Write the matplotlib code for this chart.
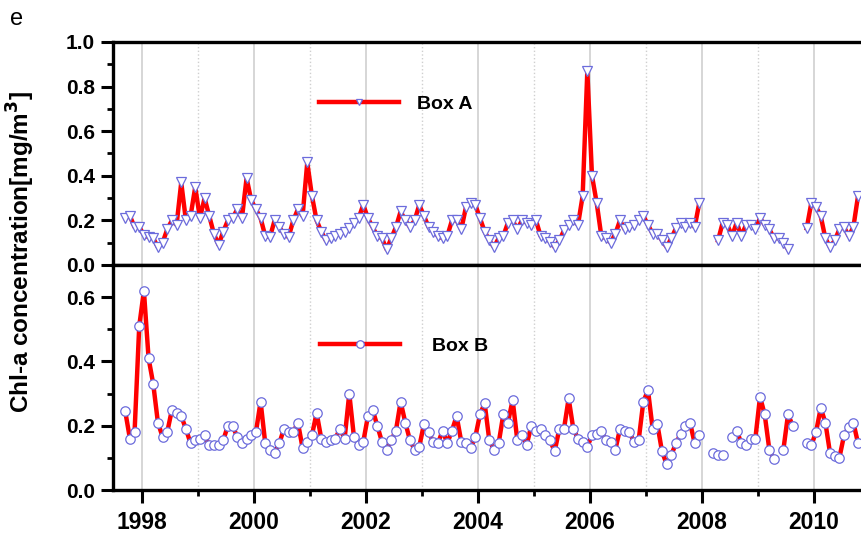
import numpy as np
import matplotlib
matplotlib.use("Agg")
import matplotlib.pyplot as plt
from matplotlib.ticker import MultipleLocator

plt.rcParams["font.family"] = ["Liberation Sans", "DejaVu Sans"]

# monthly series, first value is September 1997
START_YEAR = 1997
START_MONTH = 9
nan = np.nan

box_a = [
    0.21, 0.22, 0.17, 0.17,
    0.135, 0.125, 0.12, 0.08, 0.10, 0.16, 0.20, 0.18, 0.37, 0.20, 0.22, 0.35,
    0.21, 0.30, 0.22, 0.14, 0.09, 0.15, 0.20, 0.21, 0.25, 0.21, 0.39, 0.29,
    0.25, 0.21, 0.13, 0.125, 0.20, 0.17, 0.14, 0.125, 0.20, 0.25, 0.22, 0.46,
    0.31, 0.20, 0.15, 0.11, 0.12, 0.13, 0.14, 0.15, 0.165, 0.19, 0.21, 0.27,
    0.21, 0.17, 0.13, 0.12, 0.07, 0.12, 0.17, 0.24, 0.20, 0.17, 0.20, 0.27,
    0.22, 0.17, 0.15, 0.13, 0.12, 0.13, 0.20, 0.20, 0.16, 0.26, 0.28, 0.27,
    0.21, 0.15, 0.11, 0.08, 0.12, 0.13, 0.19, 0.20, 0.16, 0.20, 0.19, 0.18,
    0.20, 0.13, 0.12, 0.105, 0.08, 0.11, 0.155, 0.18, 0.20, 0.18, 0.31, 0.87,
    0.40, 0.28, 0.13, 0.12, 0.10, 0.14, 0.20, 0.16, 0.17, 0.18, 0.20, 0.22,
    0.18, 0.14, 0.14, 0.11, 0.08, 0.12, 0.165, 0.19, 0.17, 0.19, 0.17, 0.28,
    nan, nan, nan, 0.11, 0.19, 0.18, 0.13, 0.19, 0.13, 0.18, 0.18, 0.16,
    0.21, 0.18, 0.16, 0.12, 0.12, 0.10, 0.07, nan, nan, nan, 0.165, 0.28,
    0.26, 0.22, 0.12, 0.08, 0.11, 0.16, 0.17, 0.13, 0.17, 0.31,
]

box_b = [
    0.245, 0.16, 0.18, 0.51,
    0.62, 0.41, 0.33, 0.21, 0.165, 0.18, 0.25, 0.24, 0.23, 0.19, 0.145, 0.155,
    0.16, 0.17, 0.14, 0.14, 0.14, 0.155, 0.20, 0.20, 0.165, 0.145, 0.16, 0.17,
    0.18, 0.275, 0.145, 0.125, 0.115, 0.145, 0.19, 0.18, 0.18, 0.21, 0.13, 0.15,
    0.17, 0.24, 0.16, 0.15, 0.155, 0.16, 0.19, 0.16, 0.30, 0.165, 0.14, 0.15,
    0.23, 0.25, 0.20, 0.15, 0.125, 0.155, 0.185, 0.275, 0.21, 0.155, 0.125, 0.135,
    0.205, 0.18, 0.15, 0.145, 0.185, 0.145, 0.185, 0.23, 0.15, 0.145, 0.13, 0.165,
    0.235, 0.27, 0.155, 0.125, 0.145, 0.235, 0.21, 0.28, 0.155, 0.17, 0.14, 0.20,
    0.185, 0.19, 0.17, 0.155, 0.12, 0.19, 0.19, 0.285, 0.19, 0.16, 0.15, 0.135,
    0.17, 0.175, 0.185, 0.155, 0.15, 0.125, 0.19, 0.185, 0.18, 0.15, 0.155, 0.275,
    0.31, 0.19, 0.205, 0.12, 0.08, 0.11, 0.145, 0.175, 0.20, 0.21, 0.145, 0.17,
    nan, nan, 0.115, 0.11, 0.11, nan, 0.165, 0.185, 0.145, 0.14, 0.16, 0.16,
    0.29, 0.235, 0.125, 0.095, nan, 0.125, 0.235, 0.20, nan, nan, 0.145, 0.14,
    0.18, 0.255, 0.21, 0.115, 0.105, 0.10, 0.17, 0.195, 0.21, 0.145,
]

labels = ["Box A", "Box B"]
markers = ["v", "o"]
year_ticks = [1998, 2000, 2002, 2004, 2006, 2008, 2010]

LINE_RED = "#ff0000"
EDGE_BLUE = "#6c6cdc"
GRID_GREY = "#cfcfcf"


def month_axis(n):
    first = START_YEAR + (START_MONTH - 1) / 12.0
    return first + (np.arange(n) + 0.5) / 12.0


def style_axis(ax, ylim, major, show_x):
    ax.set_xlim(1997.49, 2011.63)
    ax.set_ylim(*ylim)
    ax.xaxis.set_major_locator(MultipleLocator(2))
    ax.xaxis.set_minor_locator(MultipleLocator(1))
    ax.yaxis.set_major_locator(MultipleLocator(major))
    ax.yaxis.set_minor_locator(MultipleLocator(0.1))
    ax.grid(which="major", axis="x", color=GRID_GREY, lw=1.2)
    ax.grid(which="minor", axis="x", color=GRID_GREY, lw=1.0, ls=":")
    ax.set_axisbelow(True)
    for side in ax.spines.values():
        side.set_linewidth(2.4)
    ax.tick_params(axis="y", which="major", direction="out", length=9, width=2.2,
                   labelsize=15, pad=4)
    ax.tick_params(axis="y", which="minor", direction="out", length=4, width=2.0)
    if show_x:
        ax.tick_params(axis="x", which="major", direction="out", length=9, width=2.2,
                       labelsize=16.5, pad=6)
        ax.tick_params(axis="x", which="minor", direction="out", length=4, width=2.0)
    else:
        ax.tick_params(axis="x", which="both", length=0, labelbottom=False)
    for lab in ax.get_xticklabels() + ax.get_yticklabels():
        lab.set_fontweight("bold")


fig = plt.figure(figsize=(8.62, 5.41), dpi=100)
left, right = 113 / 862, 905 / 862
ax_top = fig.add_axes([left, 1 - 265 / 541, right - left, 223 / 541])
ax_bot = fig.add_axes([left, 1 - 490 / 541, right - left, 225 / 541])

for ax, values, label, mk in zip([ax_top, ax_bot], [box_a, box_b], labels, markers):
    vals = np.asarray(values, dtype=float)
    ax.plot(month_axis(len(vals)), vals, color=LINE_RED, lw=3.2, marker=mk,
            ms=7.5 if mk == "v" else 6.8, mfc="white", mec=EDGE_BLUE, mew=0.9,
            label=label, clip_on=True)

style_axis(ax_top, (0, 1.0), 0.2, False)
style_axis(ax_bot, (0, 0.7), 0.2, True)
ax_bot.set_yticks([0.0, 0.2, 0.4, 0.6])
ax_bot.set_xticks(year_ticks)
for lab in ax_bot.get_xticklabels() + ax_bot.get_yticklabels():
    lab.set_fontweight("bold")

ax_top.legend(loc="center left", bbox_to_anchor=(0.260, 0.722), frameon=False,
              handlelength=4.1, handletextpad=0.95, borderpad=0, borderaxespad=0,
              markerscale=0.6, prop={"weight": "bold", "size": 14})
ax_bot.legend(loc="center left", bbox_to_anchor=(0.261, 0.638), frameon=False,
              handlelength=4.15, handletextpad=1.6, borderpad=0, borderaxespad=0,
              markerscale=0.8, prop={"weight": "bold", "size": 14})

fig.text(0.024, 0.535, "Chl-a concentration[mg/m$^\\mathbf{3}$]", rotation=90,
         ha="center", va="center", fontsize=17.5, fontweight="bold")
fig.text(0.012, 0.965, "e", ha="left", va="center", fontsize=17)

fig.savefig("out.png", dpi=100)
